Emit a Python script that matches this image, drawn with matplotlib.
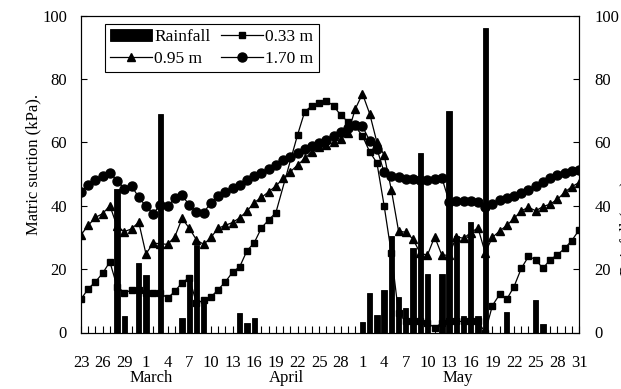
import numpy as np
import matplotlib
matplotlib.use("Agg")
import matplotlib.pyplot as plt
from matplotlib.transforms import blended_transform_factory

plt.rcParams['font.family'] = ['Liberation Serif', 'DejaVu Serif']

# days counted from 23 March (day 0) to 31 May (day 69)
days = np.arange(70)
tick_labels = ['23', '26', '29', '1', '4', '7', '10', '13', '16', '19', '22', '25', '28',
               '1', '4', '7', '10', '13', '16', '19', '22', '25', '28', '31']
months = ['March', 'April', 'May']
month_pos = [9.7, 28.4, 52.2]

nan = np.nan
suction_033 = [10.5, 13.8, 16.0, 18.7, 22.3, 14.5, 12.6, 13.3, 13.3, 12.5,
               12.5, 12.5, 10.8, 13.0, 15.7, 17.3, 9.2, 10.2, 11.2, 13.5,
               16.0, 19.0, 20.8, 25.8, 28.3, 33.0, 35.5, 37.8, nan, nan,
               62.3, 69.7, 71.5, 72.3, 73.1, 71.5, 68.5, 66.5, 65.0, 62.0,
               57.0, 53.5, 40.0, 25.0, 6.0, 3.5, 3.5, 3.5, 3.0, 1.5,
               3.0, 3.5, 3.5, 3.5, 3.5, 3.5, 0.0, 8.5, 12.0, 10.5,
               14.5, 20.2, 24.0, 23.0, 20.2, 23.0, 24.5, 26.5, 29.0, 32.3]
suction_095 = [30.8, 33.8, 36.3, 37.5, 40.0, 33.5, 31.8, 32.7, 34.8, 24.8,
               28.2, 28.0, 27.8, 30.2, 36.0, 32.9, 29.2, 27.8, 30.0, 32.9,
               33.8, 34.7, 36.2, 38.3, 41.0, 42.6, 44.4, 46.2, 48.6, 50.7,
               52.8, 54.9, 57.0, 58.4, 59.0, 60.0, 61.0, 63.0, 70.5, 75.3,
               69.0, 60.0, 56.0, 45.0, 32.0, 31.6, 29.5, 25.0, 24.4, 30.2,
               24.4, 24.4, 30.2, 29.7, 31.5, 33.0, 25.2, 30.0, 32.0, 33.8,
               36.0, 38.4, 39.5, 38.4, 39.7, 40.5, 42.0, 44.2, 46.0, 47.3]
suction_170 = [44.4, 46.5, 48.0, 49.5, 50.4, 47.9, 45.4, 46.2, 42.7, 39.8,
               37.5, 40.3, 39.8, 42.3, 43.3, 40.2, 38.0, 37.8, 41.0, 43.0,
               44.4, 45.5, 46.5, 48.0, 49.5, 50.3, 51.5, 52.8, 54.3, 55.5,
               56.7, 57.8, 58.8, 59.8, 60.7, 62.0, 63.2, 64.5, 65.5, 65.0,
               60.5, 58.0, 50.5, 49.5, 49.0, 48.5, 48.3, 48.0, 48.0, 48.3,
               48.8, 41.3, 41.5, 41.5, 41.5, 41.3, 39.7, 40.5, 41.8, 42.3,
               43.0, 44.0, 45.0, 46.2, 47.5, 48.7, 49.7, 50.3, 50.8, 51.2]

rain_days = [5, 6, 8, 9, 11, 14, 15, 16, 17, 22, 23, 24,
             39, 40, 41, 42, 43, 44, 45, 46, 47, 48, 50, 51, 52, 53, 54, 55, 56,
             59, 63, 64]
rain_mm = [45.3, 5.2, 22.0, 18.0, 69.0, 4.6, 18.2, 27.6, 11.0, 6.0, 3.0, 4.5,
           3.4, 12.5, 5.5, 13.3, 30.5, 11.2, 7.6, 26.5, 56.5, 18.4, 18.4, 70.0, 30.4, 5.2, 35.0, 5.2, 96.2,
           6.5, 10.3, 2.7]


def series(vals):
    y = np.array(vals, dtype=float)
    ok = ~np.isnan(y)
    return days[ok], y[ok]


fig = plt.figure(figsize=(6.21, 3.89), dpi=100)
ax = fig.add_axes([81 / 621, 1 - 332.5 / 389, 498 / 621, 317 / 389])
ax2 = ax.twinx()

x, y = series(suction_033)
l033, = ax.plot(x, y, color='black', lw=0.9, marker='s', ms=4.8, label='0.33 m')
x, y = series(suction_095)
l095, = ax.plot(x, y, color='black', lw=0.9, marker='^', ms=6, label='0.95 m')
x, y = series(suction_170)
l170, = ax.plot(x, y, color='black', lw=0.9, marker='o', ms=6.5, label='1.70 m')

bars = ax2.bar(rain_days, rain_mm, width=0.74, color='black', edgecolor='black',
               linewidth=0.6, label='Rainfall')

ax.set_xlim(0, 69)
ax.set_ylim(0, 100)
ax2.set_ylim(0, 100)
ax.set_yticks(range(0, 101, 20))
ax2.set_yticks(range(0, 101, 20))
ax.set_xticks(range(0, 70, 3))
ax.set_xticklabels(tick_labels)
ax.set_xticks(days, minor=True)

ax.tick_params(axis='x', which='both', direction='in', length=5, width=0.8,
               labelsize=12, pad=16)
ax.tick_params(axis='y', direction='in', length=4.5, width=0.8, labelsize=12, pad=10)
ax2.tick_params(axis='y', direction='in', length=4.5, width=0.8, labelsize=12, pad=11)
for a in (ax, ax2):
    for s in a.spines.values():
        s.set_linewidth(0.8)

trans = blended_transform_factory(ax.transData, ax.transAxes)
for m, p in zip(months, month_pos):
    ax.text(p, -0.143, m, transform=trans, ha='center', va='center', fontsize=12)

fig.text(33 / 621, 1 - 164 / 389, 'Matric suction (kPa).', rotation=90,
         ha='center', va='center', fontsize=12)
# right axis title sits mostly beyond the canvas edge, as in the source figure
fig.text(627 / 621, 1 - 228 / 389, 'Rainfall (mm)', rotation=90,
         ha='center', va='center', fontsize=12)

leg = ax2.legend([bars, l095, l033, l170], ['Rainfall', '0.95 m', '0.33 m', '1.70 m'],
                 ncol=2, loc='upper left', bbox_to_anchor=(0.048, 0.973),
                 borderaxespad=0, fontsize=12.5, frameon=True, fancybox=False,
                 edgecolor='black', framealpha=1, handlelength=2.4,
                 handletextpad=0.15, columnspacing=0.6, labelspacing=0.3,
                 borderpad=0.3)
leg.get_frame().set_linewidth(0.8)

fig.savefig('out.png', dpi=100)
